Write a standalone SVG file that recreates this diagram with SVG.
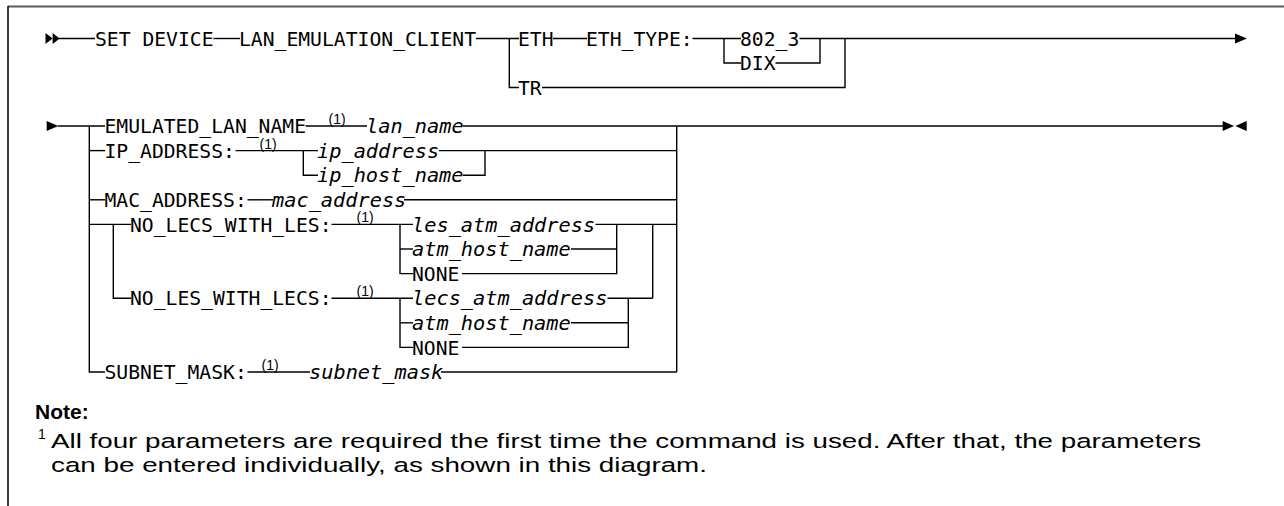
<svg xmlns="http://www.w3.org/2000/svg" width="1284" height="506" viewBox="0 0 1284 506">
  <style>
    .kw { font-family: "DejaVu Sans Mono", "Liberation Mono", monospace; font-size: 19.7px; fill: #000; }
    .var { font-family: "DejaVu Sans Mono", "Liberation Mono", monospace; font-size: 20.3px; font-style: italic; fill: #000; }
    .fn { font-family: "Liberation Sans", Arial, sans-serif; font-size: 14px; fill: #000; }
    .noteh { font-family: "Liberation Sans", Arial, sans-serif; font-size: 21px; font-weight: bold; fill: #000; }
    .note { font-family: "Liberation Sans", Arial, sans-serif; font-size: 20.5px; fill: #000; }
    .rail { fill: none; stroke: #000; stroke-width: 1.4; }
    .tip { fill: #000; stroke: none; }
  </style>

  <rect x="0" y="0" width="1284" height="506" fill="#fff"/>

  <!-- page frame -->
  <g id="frame">
    <line x1="8" y1="6.5" x2="1284" y2="6.5" stroke="#5a5a5a" stroke-width="2"/>
    <line x1="8" y1="6" x2="8" y2="506" stroke="#000" stroke-width="1.5"/>
  </g>

  <!-- rails and branch lines -->
  <g id="connectors" class="rail">
    <!-- first line of the statement -->
    <path d="M59 38.5 H95"/>
    <path d="M213.5 38.5 H240"/>
    <path d="M476 38.5 H519"/>
    <path d="M509.3 38.5 V87.5 H519"/>
    <path d="M553 38.5 H587"/>
    <path d="M692.5 38.5 H741"/>
    <path d="M724 38.5 V63 H741"/>
    <path d="M799.5 38.5 H1236"/>
    <path d="M775.5 63 H820 V38.5"/>
    <path d="M542 87.5 H845 V38.5"/>

    <!-- second line: option stack -->
    <path d="M58 126 H105"/>
    <path d="M89.3 126 V372 H105"/>
    <path d="M89.3 150.6 H105"/>
    <path d="M89.3 199.8 H105"/>
    <path d="M89.3 224.4 H131"/>
    <path d="M113.3 224.4 V298.2 H131"/>
    <path d="M305.5 126 H367"/>
    <path d="M463 126 H1223"/>
    <path d="M235.5 150.6 H318"/>
    <path d="M303.3 150.6 V175.2 H318"/>
    <path d="M439 150.6 H676.7"/>
    <path d="M463 175.2 H485 V150.6"/>
    <path d="M247.5 199.8 H273"/>
    <path d="M404 199.8 H676.7"/>
    <path d="M676.7 126 V372"/>
    <path d="M331.5 224.4 H413"/>
    <path d="M400 224.4 V273.6 H413"/>
    <path d="M400 249 H413"/>
    <path d="M595.5 224.4 H676.7"/>
    <path d="M571 249 H616.7"/>
    <path d="M462 273.6 H616.7 V224.4"/>
    <path d="M652.7 224.4 V298.2"/>
    <path d="M331.5 298.2 H413"/>
    <path d="M400 298.2 V347.4 H413"/>
    <path d="M400 322.8 H413"/>
    <path d="M607.5 298.2 H652.7"/>
    <path d="M571 322.8 H628.3"/>
    <path d="M462 347.4 H628.3 V298.2"/>
    <path d="M247.5 372 H310"/>
    <path d="M441 372 H676.7"/>
  </g>

  <!-- start, continuation and end markers -->
  <g id="markers" class="tip">
    <path d="M45.5 33 L52.6 38.5 L45.5 44 Z"/>
    <path d="M52.6 33 L59.7 38.5 L52.6 44 Z"/>
    <path d="M1235 33.5 L1247 38.5 L1235 43.5 Z"/>
    <path d="M46.7 121 L58.3 126 L46.7 131 Z"/>
    <path d="M1222.7 121 L1234 126 L1222.7 131 Z"/>
    <path d="M1246.7 121 L1235.4 126 L1246.7 131 Z"/>
  </g>

  <g id="set-device"><text class="kw" x="95" y="45.7">SET DEVICE</text></g>
  <g id="lan-emulation-client"><text class="kw" x="239" y="45.7">LAN_EMULATION_CLIENT</text></g>
  <g id="eth"><text class="kw" x="518" y="45.7">ETH</text></g>
  <g id="eth-type"><text class="kw" x="586" y="45.7">ETH_TYPE:</text></g>
  <g id="opt-802-3"><text class="kw" x="740" y="45.7">802_3</text></g>
  <g id="opt-dix"><text class="kw" x="740" y="70.2">DIX</text></g>
  <g id="tr"><text class="kw" x="518" y="94.7">TR</text></g>

  <g id="emulated-lan-name">
    <text class="kw" x="104.5" y="133.2">EMULATED_LAN_NAME</text>
    <text class="fn" x="328.5" y="124">(1)</text>
    <text class="var" x="366" y="133.2">lan_name</text>
  </g>

  <g id="ip-address">
    <text class="kw" x="104.5" y="157.8">IP_ADDRESS:</text>
    <text class="fn" x="259.5" y="148.6">(1)</text>
    <text class="var" x="317" y="157.8">ip_address</text>
    <text class="var" x="317" y="182.4">ip_host_name</text>
  </g>

  <g id="mac-address">
    <text class="kw" x="104.5" y="207">MAC_ADDRESS:</text>
    <text class="var" x="272" y="207">mac_address</text>
  </g>

  <g id="no-lecs-with-les">
    <text class="kw" x="130" y="231.6">NO_LECS_WITH_LES:</text>
    <text class="fn" x="356.5" y="222.4">(1)</text>
    <text class="var" x="412" y="231.6">les_atm_address</text>
    <text class="var" x="412" y="256.2">atm_host_name</text>
    <text class="kw" x="412" y="280.8">NONE</text>
  </g>

  <g id="no-les-with-lecs">
    <text class="kw" x="130" y="305.4">NO_LES_WITH_LECS:</text>
    <text class="fn" x="356.5" y="296.2">(1)</text>
    <text class="var" x="412" y="305.4">lecs_atm_address</text>
    <text class="var" x="412" y="330">atm_host_name</text>
    <text class="kw" x="412" y="354.6">NONE</text>
  </g>

  <g id="subnet-mask">
    <text class="kw" x="104.5" y="379.2">SUBNET_MASK:</text>
    <text class="fn" x="261.5" y="370">(1)</text>
    <text class="var" x="309" y="379.2">subnet_mask</text>
  </g>

  <g id="note">
    <text class="noteh" x="35" y="419">Note:</text>
    <text class="fn" x="38" y="439" font-size="12">1</text>
    <text class="note" x="51" y="447.5" textLength="1150" lengthAdjust="spacingAndGlyphs">All four parameters are required the first time the command is used. After that, the parameters</text>
    <text class="note" x="51" y="471.5" textLength="656" lengthAdjust="spacingAndGlyphs">can be entered individually, as shown in this diagram.</text>
  </g>
</svg>
